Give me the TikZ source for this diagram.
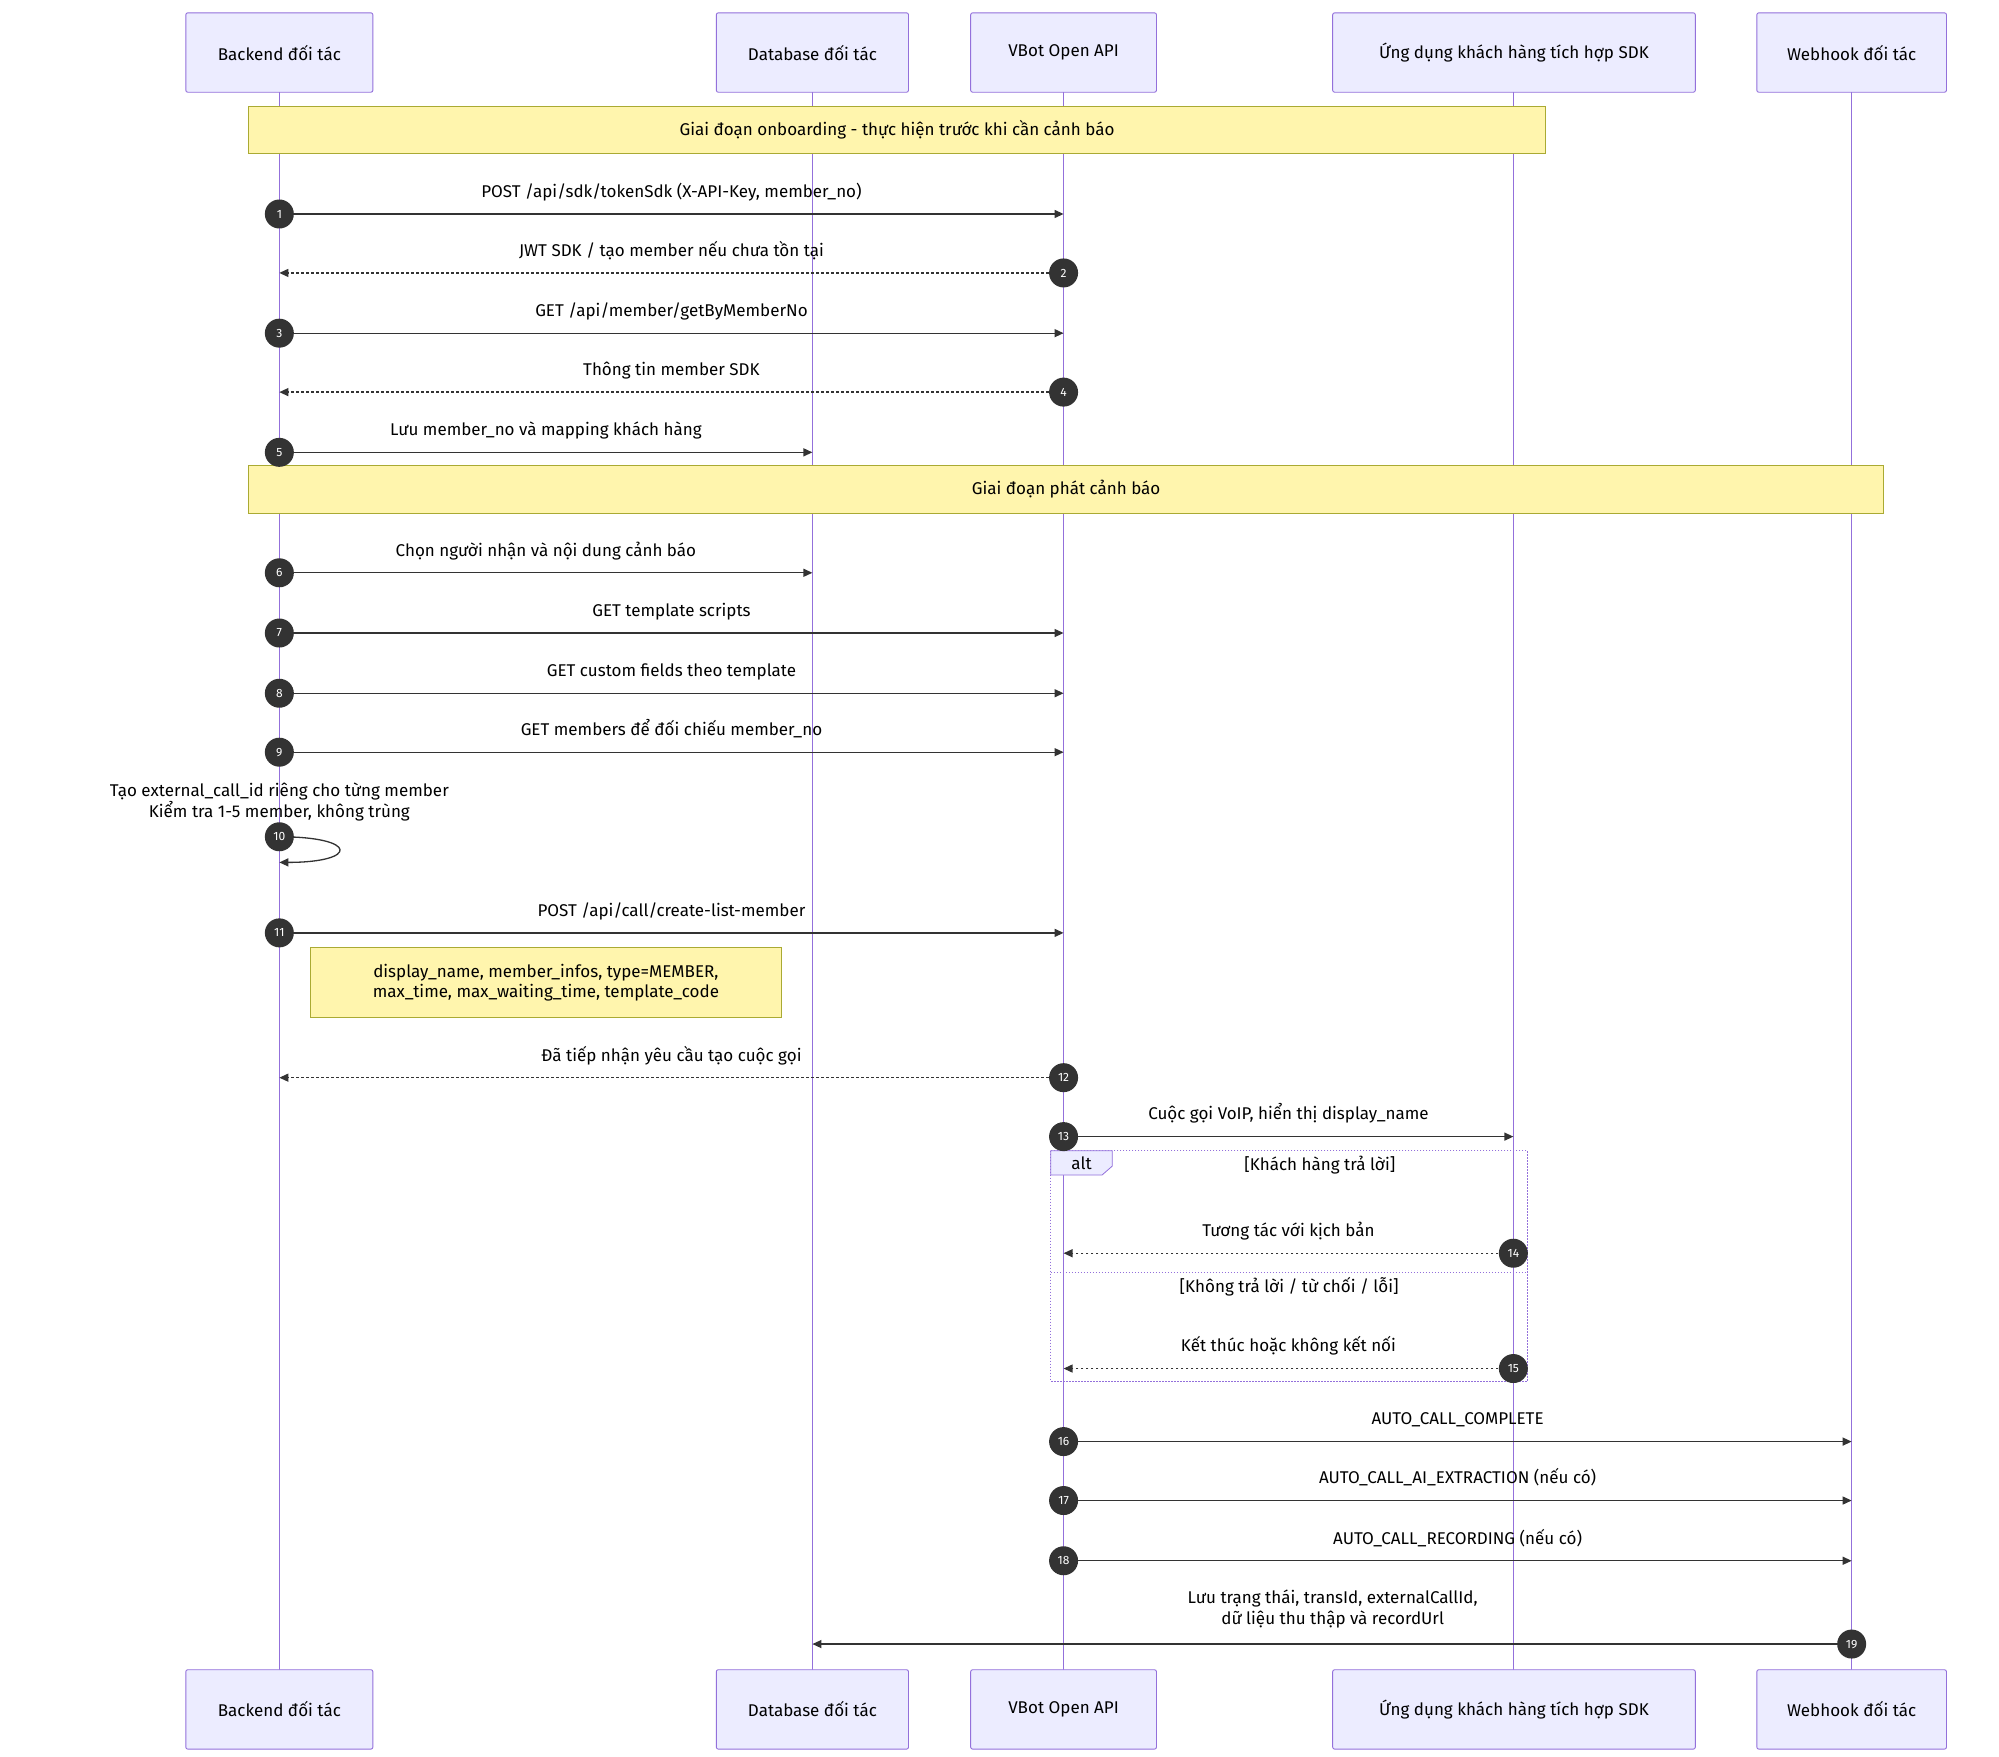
\documentclass[tikz,border=0pt]{standalone}
\usepackage{fontspec}
\setmainfont{Fira Sans}
\usetikzlibrary{arrows.meta,calc}
\definecolor{actfill}{HTML}{ECECFF}
\definecolor{actline}{HTML}{9370DB}
\definecolor{notefill}{HTML}{FFF5AD}
\definecolor{noteline}{HTML}{AAAA33}
\definecolor{ink}{HTML}{333333}
\begin{document}
\begin{tikzpicture}[x=1.2814pt,y=-1.2814pt,
 actor/.style={draw=actline,fill=actfill,rounded corners=2pt,line width=0.9pt,font=\fontsize{17}{20}\selectfont,text=black,minimum height=79.4pt},
 note/.style={draw=noteline,fill=notefill,line width=0.8pt,font=\fontsize{17}{20}\selectfont,align=center,inner sep=0pt},
 life/.style={actline,line width=1.3pt},
 msg/.style={ink,line width=1.3pt,-{Triangle[length=9pt,width=8pt]}},
 ret/.style={msg,dash pattern=on 2.5pt off 2.5pt},
 num/.style={circle,fill=ink,text=white,inner sep=0pt,minimum size=29pt,font=\fontsize{12}{12}\selectfont},
 lbl/.style={font=\fontsize{17}{21}\selectfont,align=center,inner sep=1pt}]
\useasboundingbox[fill=white] (0,0) rectangle (1560,1370.4);
% lifelines
\foreach \n/\x in {A/218,B/634,C/830,D/1181,E/1445}{
  \coordinate (\n t) at (\x,72); \coordinate (\n b) at (\x,1303);
  \draw[life] (\n t) -- (\n b);}
% actors
\def\act#1#2#3#4{\node[actor,minimum width=#3*1.2814pt] (#1) at (#2) {#4};}
\act{a1}{218,41}{146}{Backend đối tác}
\act{b1}{634,41}{150}{Database đối tác}
\act{c1}{830,41}{145}{VBot Open API}
\act{d1}{1181.5,41}{283}{Ứng dụng khách hàng tích hợp SDK}
\act{e1}{1445,41}{148}{Webhook đối tác}
\act{a2}{218,1334}{146}{Backend đối tác}
\act{b2}{634,1334}{150}{Database đối tác}
\act{c2}{830,1334}{145}{VBot Open API}
\act{d2}{1181.5,1334}{283}{Ứng dụng khách hàng tích hợp SDK}
\act{e2}{1445,1334}{148}{Webhook đối tác}
% phase notes
\node[note,minimum width=1296.8pt,minimum height=47.4pt] (n1) at (700,101.5) {Giai đoạn onboarding - thực hiện trước khi cần cảnh báo};
\node[note,minimum width=1635pt,minimum height=48.7pt] (n2) at (832,382) {Giai đoạn phát cảnh báo};
% alt frame
\coordinate (f1) at (820,898); \coordinate (f2) at (1192,1078);
\draw[actline,line width=1pt,dash pattern=on 1.5pt off 1.5pt] (f1) rectangle (f2);
\draw[actline,line width=1pt,dash pattern=on 1.5pt off 1.5pt] (820,993) -- (1192,993);
\draw[actline,fill=actfill,line width=0.8pt] (820,898) -- (868,898) -- (868,910) -- (860,917) -- (820,917) -- cycle;
\node[lbl] (alt) at (844,908) {alt};
\node[lbl] (g1) at (1030,909) {[Khách hàng trả lời]};
\node[lbl] (g2) at (1006,1004) {[Không trả lời / từ chối / lỗi]};
% messages
\def\msgA#1#2#3#4#5#6{%
 \coordinate (s#1) at (#2,#4); \coordinate (r#1) at (#3,#4);
 \draw[#6] (s#1) -- (r#1);
 \node[lbl,anchor=base] (l#1) at ($(s#1)!0.5!(r#1)+(0,-13)$) {#5};
 \node[num] (k#1) at (s#1) {#1};}
\msgA{1}{218}{830}{167}{POST /api/sdk/tokenSdk (X-API-Key, member\_no)}{msg}
\msgA{2}{830}{218}{213}{JWT SDK / tạo member nếu chưa tồn tại}{ret}
\msgA{3}{218}{830}{260}{GET /api/member/getByMemberNo}{msg}
\msgA{4}{830}{218}{306}{Thông tin member SDK}{ret}
\msgA{5}{218}{634}{353}{Lưu member\_no và mapping khách hàng}{msg}
\msgA{6}{218}{634}{447}{Chọn người nhận và nội dung cảnh báo}{msg}
\msgA{7}{218}{830}{494}{GET template scripts}{msg}
\msgA{8}{218}{830}{541}{GET custom fields theo template}{msg}
\msgA{9}{218}{830}{587}{GET members để đối chiếu member\_no}{msg}
% self message 10
\coordinate (s10) at (218,653); \coordinate (r10) at (218,673);
\draw[msg] (s10) .. controls (280,653) and (280,673) .. (r10);
\node[lbl] (l10) at (218,626) {Tạo external\_call\_id riêng cho từng member\\Kiểm tra 1-5 member, không trùng};
\node[num] (k10) at (s10) {10};
\msgA{11}{218}{830}{728}{POST /api/call/create-list-member}{msg}
\node[note,minimum width=471.6pt,minimum height=70.5pt] (n3) at (426,766.5) {display\_name, member\_infos, type=MEMBER,\\max\_time, max\_waiting\_time, template\_code};
\msgA{12}{830}{218}{841}{Đã tiếp nhận yêu cầu tạo cuộc gọi}{ret}
\msgA{13}{830}{1181}{887}{Cuộc gọi VoIP, hiển thị display\_name}{msg}
\msgA{14}{1181}{830}{978}{Tương tác với kịch bản}{ret}
\msgA{15}{1181}{830}{1068}{Kết thúc hoặc không kết nối}{ret}
\msgA{16}{830}{1445}{1125}{AUTO\_CALL\_COMPLETE}{msg}
\msgA{17}{830}{1445}{1171}{AUTO\_CALL\_AI\_EXTRACTION (nếu có)}{msg}
\msgA{18}{830}{1445}{1218}{AUTO\_CALL\_RECORDING (nếu có)}{msg}
\coordinate (s19) at (1445,1283); \coordinate (r19) at (634,1283);
\draw[msg] (s19) -- (r19);
\node[lbl] (l19) at (1040,1256) {Lưu trạng thái, transId, externalCallId,\\dữ liệu thu thập và recordUrl};
\node[num] (k19) at (s19) {19};
\end{tikzpicture}
\end{document}
